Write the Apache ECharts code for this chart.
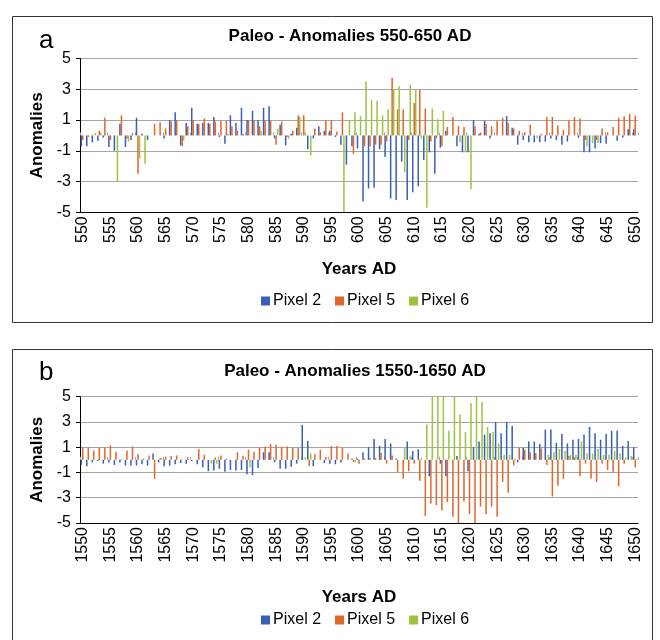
<!DOCTYPE html>
<html><head><meta charset="utf-8">
<script src="https://cdn.jsdelivr.net/npm/echarts@6/dist/echarts.min.js"></script>
<style>html,body{margin:0;padding:0;background:#fff}#c{width:660px;height:640px}</style>
</head><body><div id="c"></div>
<script>
const yearsA = [550,551,552,553,554,555,556,557,558,559,560,561,562,563,564,565,566,567,568,569,570,571,572,573,574,575,576,577,578,579,580,581,582,583,584,585,586,587,588,589,590,591,592,593,594,595,596,597,598,599,600,601,602,603,604,605,606,607,608,609,610,611,612,613,614,615,616,617,618,619,620,621,622,623,624,625,626,627,628,629,630,631,632,633,634,635,636,637,638,639,640,641,642,643,644,645,646,647,648,649,650];
const yearsB = [1550,1551,1552,1553,1554,1555,1556,1557,1558,1559,1560,1561,1562,1563,1564,1565,1566,1567,1568,1569,1570,1571,1572,1573,1574,1575,1576,1577,1578,1579,1580,1581,1582,1583,1584,1585,1586,1587,1588,1589,1590,1591,1592,1593,1594,1595,1596,1597,1598,1599,1600,1601,1602,1603,1604,1605,1606,1607,1608,1609,1610,1611,1612,1613,1614,1615,1616,1617,1618,1619,1620,1621,1622,1623,1624,1625,1626,1627,1628,1629,1630,1631,1632,1633,1634,1635,1636,1637,1638,1639,1640,1641,1642,1643,1644,1645,1646,1647,1648,1649,1650];

const pixel2A = [-0.7,-0.7,-0.45,-0.35,-0.15,-0.75,-1.0,0.75,-0.75,-0.3,
 1.15,0.1,-0.3,0,0,-0.2,1.0,1.5,-0.65,0.8,
 1.8,0.75,0.8,0.8,1.2,-0.1,-0.55,1.3,0.8,1.8,
 1.0,1.6,1.0,1.8,1.9,-0.2,0.7,-0.65,0.1,0.5,
 0,-0.9,-0.2,0.6,0.3,0.3,-0.1,-0.6,-1.9,-0.7,
 -0.85,-4.3,-3.45,-3.4,-0.9,-1.4,-4.1,-4.2,-1.7,-4.2,
 -3.7,-3.3,-1.6,-1.1,-2.5,-0.8,0.3,0,-0.7,-1.1,
 -1.1,1.0,0.1,0.95,-0.2,0,0,1.25,0.5,-0.6,
 -0.3,-0.45,-0.45,-0.45,-0.4,-0.2,-0.3,-0.6,-0.4,0,
 -0.15,-1.1,-1.1,-0.85,-0.5,-0.55,0,-0.35,-0.15,0.4,0.4];
const pixel5A = [-0.3,-0.1,0,0.3,1.15,-0.3,0,1.3,-0.2,0.15,
 -2.5,0,0,0.75,0.85,0.45,0.9,1.0,-0.7,0.6,
 1.0,0.75,1.1,0.75,0.9,0.95,0.95,0.6,0.3,0.1,
 1.0,1.0,0.6,0.95,0.95,-0.6,0.9,-0.1,0.3,1.3,
 1.3,0,0.45,0.2,1.0,1.0,0.25,1.5,0,-1.2,
 0,-0.7,-0.7,-0.6,-0.6,-0.4,3.75,1.7,1.7,-0.3,
 2.1,2.95,1.75,-0.4,-0.2,-0.7,0.55,1.2,0.6,0.55,
 0,0.6,0.2,0.75,0.6,0.95,1.15,0.8,0.45,0.3,
 0.2,0.7,0,0.1,1.2,1.2,0.65,0.35,0.95,1.2,
 1.1,-0.3,0,-0.3,0.45,0.2,0.55,1.15,1.25,1.4,1.3];
const pixel6A = [0,0,0.15,0.2,0,0,-3.0,0,-0.4,0,
 -1.5,-1.85,0,0,0,0,0,0,-0.35,0,
 0,0,0,0,0,0,0.1,0,0,0,
 0,0,0.3,0,0,0.45,0,-0.2,0,1.2,
 0.2,-1.3,0,0,0,0,0,-5,1.0,1.5,
 1.25,3.5,2.3,2.26,1.3,1.7,3.0,3.2,-2.4,3.3,
 2.95,-0.2,-4.7,1.75,1.05,1.6,0,0,-0.45,-1.1,
 -3.5,0,0,0,0,0,0,0,0,0,
 0,0,-0.2,0,0,0,0,0,0,0,
 0,-0.7,-0.5,-0.5,0,0,0,0,0,0,0];

const pixel2B = [-0.4,-0.5,-0.2,-0.1,-0.3,-0.2,-0.4,-0.2,-0.45,-0.45,
 -0.45,-0.35,-0.45,0.5,-0.2,-0.5,-0.45,-0.35,-0.25,-0.3,
 -0.1,-0.35,-0.6,-0.9,-0.85,-0.7,-0.95,-0.8,-0.85,-0.8,
 -1.15,-1.2,-0.65,0.6,0.6,-0.2,-0.7,-0.7,-0.55,-0.3,
 2.75,1.5,-0.5,0,-0.25,-0.3,-0.35,-0.2,0,0.1,
 0.1,0.6,1.0,1.65,1.1,1.65,1.3,0.1,0,1.45,
 0.7,0.85,0,-1.3,0,-0.3,-1.3,0,0.3,0,
 -0.9,1.0,1.45,2.0,2.1,3.0,2.1,3.0,2.7,-0.2,
 0.95,1.45,1.45,1.25,2.4,2.4,1.35,2.05,1.3,1.6,
 1.65,2.0,2.6,2.1,1.6,2.05,2.3,2.3,1.1,1.5,1.0];
const pixel5B = [1.0,1.0,0.75,1.0,0.95,1.15,0.65,0.05,0.75,1.05,
 0.45,0.1,0.35,-1.5,0.15,0.25,0.3,0.35,0.05,0.2,
 0,0.85,0.4,0,0.2,0.35,0.1,0,0.6,0.3,
 0.8,0.65,0.95,1.05,1.25,1.2,1.05,1.05,0.95,0.95,
 0,-0.5,0.45,0.8,0.2,1.1,1.1,0.95,0.5,-0.15,
 -0.3,0.1,0.15,0.15,0.55,-0.3,0.35,-0.95,-1.5,-0.9,
 -0.3,-1.65,-4.45,-3.45,-3.6,-4.0,-3.35,-4.5,-5,-3.3,
 -4.3,-5,-3.7,-4.3,-3.7,-4.5,-1.75,-2.6,-0.45,0.95,
 0.8,0.6,0.55,0.9,-0.4,-2.9,-2.05,-1.5,0.3,0.2,
 -1.3,-0.3,-1.5,-1.75,-0.3,-0.8,-1.0,-2.1,-0.3,0,-0.6];
const pixel6B = [0,0,0,0,0,0,0,0,0,0,
 0,0,0,0,0.1,0,0,0,0,0,
 0,0,0,-0.3,-0.3,0,0,0,0,0,
 -0.6,0,0,0,0,0,0,0,0,0,
 0.2,0.5,0,0,0,0,0,0,0,-0.2,
 0,0,0,0,0,0,0,0,1.0,0.35,
 0,0.15,2.8,5,5,5,2.3,5,3.6,2.2,
 4.5,5,4.6,2.6,2.2,1.3,0.4,0.4,0.1,0,
 0,0,0,0,0.4,0.6,0.85,0.7,0.4,0.4,
 1.45,0.5,0.5,0.85,0.4,0.4,0.7,0.5,0.2,0.3,0.1];

const seriesNames = ['Pixel 2','Pixel 5','Pixel 6'];
const colors = ['#3a5fb6','#e0672a','#9cc33e'];
const yTicks = {min:-5, max:5, interval:2};

const FONT = 'Liberation Sans, Arial, sans-serif';
const chart = echarts.init(document.getElementById('c'), null, {renderer:'canvas'});

function xMain(grid, data){
  return {gridIndex:grid, type:'category', data:data.map(String), position:'bottom',
    name:'Years AD', nameLocation:'middle', nameGap: grid===0?49:66,
    nameTextStyle:{fontSize:17, fontWeight:'bold', color:'#000', fontFamily:FONT},
    axisLine:{onZero:false, lineStyle:{color:'#000', width:1}},
    axisTick:{show:false},
    axisLabel:{interval:4, rotate:90, fontSize:16, margin:4, color:'#000', fontFamily:FONT},
    splitLine:{show:false}};
}
function xZero(grid, data){
  return {gridIndex:grid, type:'category', data:data.map(String),
    axisLine:{show:false, onZero:true},
    axisTick:{show:true, interval:4, length:3, lineStyle:{color:'#a6a6a6'}},
    axisLabel:{show:false}, splitLine:{show:false}};
}
function yAx(grid){
  return {gridIndex:grid, type:'value', min:yTicks.min, max:yTicks.max, interval:yTicks.interval,
    name:'Anomalies', nameLocation:'middle', nameGap:30, nameRotate:90,
    nameTextStyle:{fontSize:17, fontWeight:'bold', color:'#000', fontFamily:FONT},
    axisLine:{show:true, lineStyle:{color:'#000', width:1}},
    axisTick:{show:true, length:4, lineStyle:{color:'#000'}},
    axisLabel:{fontSize:16, margin:9, color:'#000', fontFamily:FONT},
    splitLine:{show:true, lineStyle:{color:'#a6a6a6', width:1}}};
}
function bars(xi, yi, arrs){
  return arrs.map((d,i)=>({name:seriesNames[i], type:'bar', xAxisIndex:xi, yAxisIndex:yi,
    data:d, barGap:'0%', barCategoryGap:'18%', itemStyle:{color:colors[i]}, animation:false}));
}

chart.setOption({
  animation:false,
  textStyle:{fontFamily:FONT},
  title:[
    {text:'Paleo - Anomalies 550-650 AD', left:345, top:23, textAlign:'center',
     textStyle:{fontSize:17, fontWeight:'bold', color:'#000', fontFamily:FONT}},
    {text:'Paleo - Anomalies 1550-1650 AD', left:350, top:358, textAlign:'center',
     textStyle:{fontSize:17, fontWeight:'bold', color:'#000', fontFamily:FONT}},
    {text:'a', left:34, top:23, textStyle:{fontSize:26, fontWeight:'normal', color:'#000', fontFamily:FONT}},
    {text:'b', left:34, top:355, textStyle:{fontSize:26, fontWeight:'normal', color:'#000', fontFamily:FONT}}
  ],
  legend:[
    {data:seriesNames, left:256, top:288, icon:'rect', itemWidth:9, itemHeight:9, itemGap:14, selectedMode:false,
     textStyle:{fontSize:16, color:'#000', fontFamily:FONT, padding:[0,0,0,-2]}},
    {data:seriesNames, left:256, top:607, icon:'rect', itemWidth:9, itemHeight:9, itemGap:14, selectedMode:false,
     textStyle:{fontSize:16, color:'#000', fontFamily:FONT, padding:[0,0,0,-2]}}
  ],
  grid:[
    {left:80, top:58.5, width:558, height:153.8},
    {left:80, top:396.7, width:558, height:126.3}
  ],
  xAxis:[xMain(0, yearsA), xZero(0, yearsA), xMain(1, yearsB), xZero(1, yearsB)],
  yAxis:[yAx(0), yAx(1)],
  series:[...bars(0,0,[pixel2A,pixel5A,pixel6A]), ...bars(2,1,[pixel2B,pixel5B,pixel6B])],
  graphic:[
    {type:'rect', z:-10, shape:{x:12.5, y:16.5, width:640, height:306}, style:{fill:'none', stroke:'#333', lineWidth:1}},
    {type:'rect', z:-10, shape:{x:12.5, y:349.5, width:640, height:310}, style:{fill:'none', stroke:'#333', lineWidth:1}}
  ]
});
</script></body></html>
